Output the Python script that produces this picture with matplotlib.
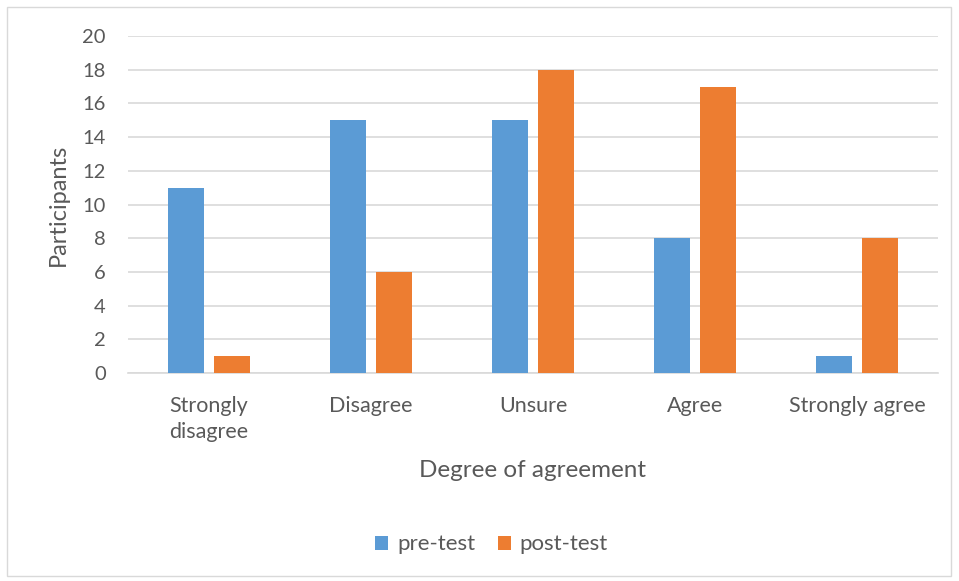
import numpy as np
import matplotlib.pyplot as plt
from matplotlib.patches import Rectangle

# datos
categorias = ['Strongly\ndisagree', 'Disagree', 'Unsure', 'Agree', 'Strongly agree']
pre_test = [11, 15, 15, 8, 1]
post_test = [1, 6, 18, 17, 8]

plt.rcParams['font.family'] = ['Lato', 'DejaVu Sans']
gris = '#595959'

fig = plt.figure(figsize=(9.59, 5.81), dpi=100)
ax = fig.add_axes([0.1335, 0.358, 0.8445, 0.58])

x = np.arange(len(categorias))
ancho = 0.222
sep = 0.063
ax.bar(x - (ancho + sep) / 2, pre_test, ancho, color='#5B9BD5', label='pre-test', zorder=3)
ax.bar(x + (ancho + sep) / 2, post_test, ancho, color='#ED7D31', label='post-test', zorder=3)

ax.set_xlim(-0.5, len(categorias) - 0.5)
ax.set_ylim(0, 20)
ax.set_yticks(np.arange(0, 21, 2))
ax.set_xticks(x)
ax.set_xticklabels(categorias, fontsize=15.5, color=gris, va='top', linespacing=1.35)
ax.tick_params(axis='y', labelsize=14.5, colors=gris, length=0, pad=16)
ax.tick_params(axis='x', length=0, pad=16.5)
ax.grid(axis='y', color='#D9D9D9', linewidth=1.2, zorder=0)
for s in ['top', 'right', 'left']:
    ax.spines[s].set_visible(False)
ax.spines['bottom'].set_color('#D9D9D9')
ax.spines['bottom'].set_linewidth(1.2)

ax.set_ylabel('Participants', fontsize=17, color=gris, labelpad=10)
ax.set_xlabel('Degree of agreement', fontsize=17.5, color=gris, labelpad=13)

fig.legend(loc='center', bbox_to_anchor=(0.5125, 0.063), ncol=2, frameon=False,
           fontsize=16, labelcolor=gris, handlelength=0.6, handleheight=0.6,
           handletextpad=0.4, columnspacing=1.0)

# borde exterior del grafico
fig.patches.append(Rectangle((0.007, 0.008), 0.985, 0.98, transform=fig.transFigure,
                             fill=False, edgecolor='#D9D9D9', linewidth=1))

plt.savefig('out.png', dpi=100)
